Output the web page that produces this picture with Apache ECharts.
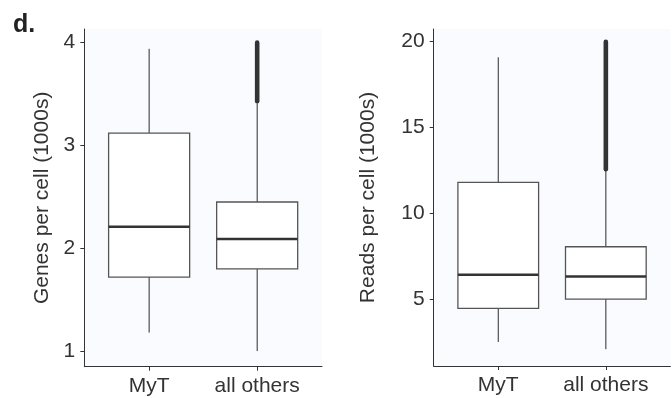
<!DOCTYPE html>
<html>
<head>
<meta charset="utf-8">
<script src="https://cdn.jsdelivr.net/npm/echarts@6/dist/echarts.min.js"></script>
<style>html,body{margin:0;padding:0;background:#fff;}#c{width:672px;height:398px;}</style>
</head>
<body>
<div id="c"></div>
<script>
// ---- data ----
var categories = ['MyT', 'all others'];
// [lower whisker, Q1, median, Q3, upper whisker]
var genesBoxes = [
  [1.18, 1.72, 2.21, 3.12, 3.94],
  [1.00, 1.80, 2.09, 2.45, 3.41]
];
// outlier span per category [min, max] (null = none)
var genesOutliers = [null, [3.43, 4.00]];
var genesTicks = [1, 2, 3, 4];

var readsBoxes = [
  [2.50, 4.46, 6.42, 11.80, 19.09],
  [2.08, 5.00, 6.32, 8.05, 12.50]
];
var readsOutliers = [null, [12.57, 20.00]];
var readsTicks = [5, 10, 15, 20];

var panelLabel = 'd.';
var genesTitle = 'Genes per cell (1000s)';
var readsTitle = 'Reads per cell (1000s)';

// ---- chart ----
var textColor = '#333333';
var fontFamily = 'Liberation Sans, Arial, sans-serif';
var catPos = categories.map(function (c, i) { return i + 1; });

function boxData(boxes, outliers) {
  return boxes.map(function (b, i) {
    var o = outliers[i];
    return [i + 1, b[0], b[1], b[2], b[3], b[4], o ? o[0] : NaN, o ? o[1] : NaN];
  });
}

function renderBox(params, api) {
  var x = api.value(0);
  var halfW = api.size([0.75, 0])[0] / 2;
  var pLow = api.coord([x, api.value(1)]);
  var pQ1 = api.coord([x, api.value(2)]);
  var pMed = api.coord([x, api.value(3)]);
  var pQ3 = api.coord([x, api.value(4)]);
  var pHigh = api.coord([x, api.value(5)]);
  var cx = pMed[0];
  var children = [
    { type: 'line', shape: { x1: cx, y1: pQ3[1], x2: cx, y2: pHigh[1] }, style: { stroke: '#2b2b2b', lineWidth: 1 } },
    { type: 'line', shape: { x1: cx, y1: pQ1[1], x2: cx, y2: pLow[1] }, style: { stroke: '#2b2b2b', lineWidth: 1 } },
    { type: 'rect', shape: { x: cx - halfW, y: pQ3[1], width: 2 * halfW, height: pQ1[1] - pQ3[1] },
      style: { fill: '#ffffff', stroke: '#555555', lineWidth: 1.3 } },
    { type: 'line', shape: { x1: cx - halfW, y1: pMed[1], x2: cx + halfW, y2: pMed[1] }, style: { stroke: '#333333', lineWidth: 2.6 } }
  ];
  var oMin = api.value(6), oMax = api.value(7);
  if (!isNaN(oMin) && !isNaN(oMax)) {
    var a = api.coord([x, oMin]), b = api.coord([x, oMax]);
    children.push({ type: 'line', shape: { x1: cx, y1: a[1], x2: cx, y2: b[1] },
      style: { stroke: '#333333', lineWidth: 4.6, lineCap: 'round' } });
  }
  return { type: 'group', children: children };
}

function xAxisCfg(gi) {
  return {
    type: 'value', gridIndex: gi, min: 0.4, max: 2.6,
    splitLine: { show: false },
    axisLine: { show: true, onZero: false, lineStyle: { color: '#333', width: 1 } },
    axisTick: { show: true, customValues: catPos, length: 4, lineStyle: { color: '#333' } },
    axisLabel: { show: true, customValues: catPos, margin: 9, color: textColor, fontSize: 21, fontFamily: fontFamily,
      formatter: function (v) { return categories[Math.round(v) - 1] || ''; } }
  };
}

function yAxisCfg(gi, min, max, ticks, title, gap) {
  return {
    type: 'value', gridIndex: gi, min: min, max: max,
    splitLine: { show: false },
    axisLine: { show: true, onZero: false, lineStyle: { color: '#333', width: 1 } },
    axisTick: { show: true, customValues: ticks, length: 4, lineStyle: { color: '#333' } },
    axisLabel: { show: true, customValues: ticks, margin: 9, color: textColor, fontSize: 21, fontFamily: fontFamily },
    name: title, nameLocation: 'middle', nameGap: gap, nameRotate: 90,
    nameTextStyle: { color: textColor, fontSize: 21, fontFamily: fontFamily }
  };
}

var chart = echarts.init(document.getElementById('c'), null, { renderer: 'canvas' });
chart.setOption({
  animation: false,
  backgroundColor: '#ffffff',
  grid: [
    { left: 84.3, top: 29, width: 237.7, height: 337.7, show: true, backgroundColor: '#f9fbfe', borderWidth: 0 },
    { left: 433.7, top: 29, width: 236.7, height: 337, show: true, backgroundColor: '#f9fbfe', borderWidth: 0 }
  ],
  xAxis: [xAxisCfg(0), xAxisCfg(1)],
  yAxis: [
    yAxisCfg(0, 0.848, 4.133, genesTicks, genesTitle, 32),
    yAxisCfg(1, 1.1, 20.74, readsTicks, readsTitle, 55)
  ],
  graphic: [
    { type: 'text', left: 13, top: 13, style: { text: panelLabel, font: 'bold 25px ' + fontFamily, fill: '#222' } }
  ],
  series: [
    { type: 'custom', xAxisIndex: 0, yAxisIndex: 0, renderItem: renderBox, data: boxData(genesBoxes, genesOutliers),
      encode: { x: 0, y: [1, 2, 3, 4, 5] }, clip: false },
    { type: 'custom', xAxisIndex: 1, yAxisIndex: 1, renderItem: renderBox, data: boxData(readsBoxes, readsOutliers),
      encode: { x: 0, y: [1, 2, 3, 4, 5] }, clip: false }
  ]
});
</script>
</body>
</html>
